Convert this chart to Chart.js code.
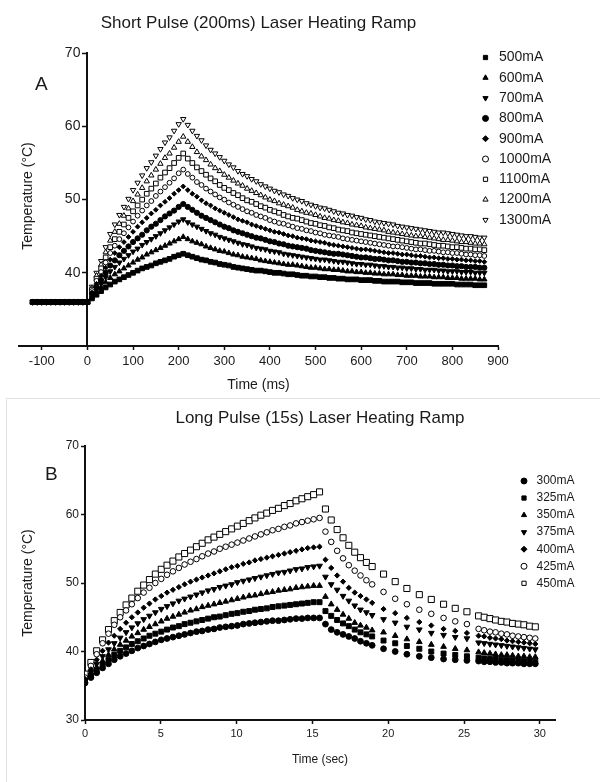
<!DOCTYPE html>
<html>
<head>
<meta charset="utf-8">
<title>Laser Heating Ramp</title>
<script src="https://cdn.jsdelivr.net/npm/chart.js@4.4.1/dist/chart.umd.min.js"></script>
<style>
  body { margin: 0; background: #fff; }
  #page { position: relative; width: 600px; height: 782px; overflow: hidden;
          font-family: "Liberation Sans", Arial, sans-serif; color: #1a1a1a; }
  #chartA { position: absolute; left: 0; top: 0; }
  #chartB { position: absolute; left: 0; top: 400px; }
  #frameB { position: absolute; left: 6px; top: 398px; width: 600px; height: 400px;
            border-left: 1px solid #e2e2e2; border-top: 1px solid #e2e2e2; }
  .letter { position: absolute; font-size: 19px; line-height: 19px; }
  #yTitleA { position: absolute; left: -73px; top: 188px; width: 200px; height: 16px;
             line-height: 16px; font-size: 14px; text-align: center; transform: rotate(-90deg); }
</style>
</head>
<body>
<div id="page">
  <div id="frameB"></div>
  <canvas id="chartA" width="600" height="400"></canvas>
  <canvas id="chartB" width="600" height="382"></canvas>
  <div class="letter" style="left:35px; top:74px;">A</div>
  <div class="letter" style="left:45px; top:464px;">B</div>
  <div id="yTitleA">Temperature (°C)</div>
</div>
<script>
const FONT = "'Liberation Sans', Arial, sans-serif";
Chart.defaults.font.family = FONT;
Chart.defaults.color = "#1a1a1a";

// ---------- A: short pulse (200 ms), time in ms ----------
const timeA = [-120, -110, -100, -90, -80, -70, -60, -50, -40, -30, -20, -10, 0,
  10, 20, 30, 40, 50, 60, 70, 80, 90, 100, 110, 120, 130, 140, 150, 160, 170, 180, 190, 200, 210,
  220, 230, 240, 250, 260, 270, 280, 290, 300, 310, 320, 330, 340, 350, 360, 370, 380, 390, 400, 410,
  420, 430, 440, 450, 460, 470, 480, 490, 500, 510, 520, 530, 540, 550, 560, 570, 580, 590, 600, 610,
  620, 630, 640, 650, 660, 670, 680, 690, 700, 710, 720, 730, 740, 750, 760, 770, 780, 790, 800, 810,
  820, 830, 840, 850, 860, 870];

const labelsA = ["500mA", "600mA", "700mA", "800mA", "900mA", "1000mA", "1100mA", "1200mA", "1300mA"];

const a500 = [36.0, 36.0, 36.0, 36.0, 36.0, 36.0, 36.0, 36.0, 36.0, 36.0, 36.0, 36.0, 36.0,
  36.5, 37.0, 37.5, 38.0, 38.4, 38.8, 39.1, 39.4, 39.7, 40.0, 40.3, 40.6, 40.8, 41.0, 41.3, 41.5, 41.7, 41.9, 42.2, 42.4, 42.6,
  42.4, 42.2, 42.0, 41.8, 41.7, 41.5, 41.4, 41.2, 41.1, 41.0,
  40.8, 40.7, 40.6, 40.5, 40.4, 40.3, 40.3, 40.2, 40.1, 40.0,
  40.0, 39.9, 39.8, 39.8, 39.7, 39.6, 39.6, 39.5, 39.5, 39.4,
  39.4, 39.3, 39.3, 39.2, 39.2, 39.1, 39.1, 39.1, 39.0, 39.0,
  39.0, 38.9, 38.9, 38.8, 38.8, 38.8, 38.8, 38.7, 38.7, 38.7,
  38.6, 38.6, 38.6, 38.6, 38.5, 38.5, 38.5, 38.5, 38.5, 38.4,
  38.4, 38.4, 38.4, 38.3, 38.3, 38.3];
const a600 = [36.0, 36.0, 36.0, 36.0, 36.0, 36.0, 36.0, 36.0, 36.0, 36.0, 36.0, 36.0, 36.0,
  36.7, 37.4, 38.0, 38.7, 39.3, 39.8, 40.2, 40.6, 41.0, 41.4, 41.8, 42.1, 42.5, 42.8, 43.1, 43.4, 43.7, 44.0, 44.3, 44.6, 44.9,
  44.6, 44.3, 44.1, 43.9, 43.6, 43.4, 43.2, 43.0, 42.9, 42.7,
  42.5, 42.4, 42.2, 42.1, 42.0, 41.9, 41.7, 41.6, 41.5, 41.4,
  41.3, 41.2, 41.1, 41.1, 41.0, 40.9, 40.8, 40.7, 40.7, 40.6,
  40.5, 40.5, 40.4, 40.4, 40.3, 40.2, 40.2, 40.1, 40.1, 40.0,
  40.0, 39.9, 39.9, 39.8, 39.8, 39.8, 39.7, 39.7, 39.6, 39.6,
  39.6, 39.5, 39.5, 39.5, 39.4, 39.4, 39.4, 39.3, 39.3, 39.3,
  39.2, 39.2, 39.2, 39.2, 39.1, 39.1];
const a700 = [36.0, 36.0, 36.0, 36.0, 36.0, 36.0, 36.0, 36.0, 36.0, 36.0, 36.0, 36.0, 36.0,
  36.9, 37.8, 38.5, 39.4, 40.2, 40.8, 41.4, 41.9, 42.4, 42.9, 43.3, 43.8, 44.2, 44.6, 45.0, 45.4, 45.8, 46.2, 46.6, 47.0, 47.3,
  46.9, 46.6, 46.3, 46.0, 45.7, 45.4, 45.2, 44.9, 44.7, 44.5,
  44.3, 44.1, 43.9, 43.8, 43.6, 43.4, 43.3, 43.2, 43.0, 42.9,
  42.8, 42.6, 42.5, 42.4, 42.3, 42.2, 42.1, 42.0, 41.9, 41.8,
  41.8, 41.7, 41.6, 41.5, 41.5, 41.4, 41.3, 41.2, 41.2, 41.1,
  41.1, 41.0, 40.9, 40.9, 40.8, 40.8, 40.7, 40.7, 40.6, 40.6,
  40.5, 40.5, 40.4, 40.4, 40.4, 40.3, 40.3, 40.2, 40.2, 40.2,
  40.1, 40.1, 40.1, 40.0, 40.0, 40.0];
const a800 = [36.0, 36.0, 36.0, 36.0, 36.0, 36.0, 36.0, 36.0, 36.0, 36.0, 36.0, 36.0, 36.0,
  37.1, 38.1, 39.0, 40.0, 41.0, 41.7, 42.4, 43.0, 43.6, 44.2, 44.7, 45.2, 45.8, 46.3, 46.7, 47.2, 47.7, 48.1, 48.5, 49.0, 49.4,
  49.0, 48.6, 48.2, 47.8, 47.5, 47.2, 46.9, 46.6, 46.3, 46.1,
  45.8, 45.6, 45.4, 45.2, 45.0, 44.8, 44.7, 44.5, 44.3, 44.2,
  44.0, 43.9, 43.7, 43.6, 43.5, 43.4, 43.3, 43.1, 43.0, 42.9,
  42.8, 42.7, 42.6, 42.6, 42.5, 42.4, 42.3, 42.2, 42.1, 42.1,
  42.0, 41.9, 41.9, 41.8, 41.7, 41.7, 41.6, 41.5, 41.5, 41.4,
  41.4, 41.3, 41.3, 41.2, 41.2, 41.1, 41.1, 41.0, 41.0, 40.9,
  40.9, 40.8, 40.8, 40.8, 40.7, 40.7];
const a900 = [36.0, 36.0, 36.0, 36.0, 36.0, 36.0, 36.0, 36.0, 36.0, 36.0, 36.0, 36.0, 36.0,
  37.3, 38.5, 39.6, 40.7, 41.8, 42.7, 43.5, 44.2, 44.9, 45.6, 46.3, 46.9, 47.5, 48.1, 48.6, 49.2, 49.7, 50.2, 50.8, 51.3, 51.8,
  51.3, 50.8, 50.4, 49.9, 49.5, 49.2, 48.8, 48.5, 48.2, 47.9,
  47.6, 47.3, 47.1, 46.9, 46.6, 46.4, 46.2, 46.0, 45.8, 45.6,
  45.5, 45.3, 45.1, 45.0, 44.8, 44.7, 44.6, 44.4, 44.3, 44.2,
  44.1, 43.9, 43.8, 43.7, 43.6, 43.5, 43.4, 43.3, 43.2, 43.2,
  43.1, 43.0, 42.9, 42.8, 42.7, 42.7, 42.6, 42.5, 42.5, 42.4,
  42.3, 42.3, 42.2, 42.1, 42.1, 42.0, 42.0, 41.9, 41.9, 41.8,
  41.8, 41.7, 41.7, 41.6, 41.6, 41.5];
const a1000 = [36.0, 36.0, 36.0, 36.0, 36.0, 36.0, 36.0, 36.0, 36.0, 36.0, 36.0, 36.0, 36.0,
  37.5, 38.9, 40.1, 41.4, 42.7, 43.7, 44.6, 45.4, 46.2, 47.0, 47.8, 48.5, 49.2, 49.8, 50.5, 51.1, 51.7, 52.3, 52.9, 53.6, 54.1,
  53.5, 53.0, 52.4, 52.0, 51.5, 51.1, 50.7, 50.3, 50.0, 49.6,
  49.3, 49.0, 48.7, 48.4, 48.2, 47.9, 47.7, 47.5, 47.2, 47.0,
  46.8, 46.7, 46.5, 46.3, 46.1, 46.0, 45.8, 45.7, 45.5, 45.4,
  45.2, 45.1, 45.0, 44.9, 44.7, 44.6, 44.5, 44.4, 44.3, 44.2,
  44.1, 44.0, 43.9, 43.8, 43.7, 43.6, 43.6, 43.5, 43.4, 43.3,
  43.2, 43.2, 43.1, 43.0, 43.0, 42.9, 42.8, 42.8, 42.7, 42.7,
  42.6, 42.5, 42.5, 42.4, 42.4, 42.3];
const a1100 = [36.0, 36.0, 36.0, 36.0, 36.0, 36.0, 36.0, 36.0, 36.0, 36.0, 36.0, 36.0, 36.0,
  37.7, 39.2, 40.6, 42.1, 43.5, 44.6, 45.6, 46.6, 47.5, 48.4, 49.2, 50.0, 50.8, 51.5, 52.2, 53.0, 53.7, 54.3, 55.0, 55.7, 56.3,
  55.6, 55.0, 54.4, 53.9, 53.4, 52.9, 52.5, 52.0, 51.6, 51.3,
  50.9, 50.6, 50.2, 49.9, 49.7, 49.4, 49.1, 48.9, 48.6, 48.4,
  48.2, 47.9, 47.7, 47.5, 47.4, 47.2, 47.0, 46.8, 46.7, 46.5,
  46.4, 46.2, 46.1, 45.9, 45.8, 45.7, 45.5, 45.4, 45.3, 45.2,
  45.1, 45.0, 44.9, 44.8, 44.7, 44.6, 44.5, 44.4, 44.3, 44.2,
  44.1, 44.0, 44.0, 43.9, 43.8, 43.7, 43.7, 43.6, 43.5, 43.5,
  43.4, 43.3, 43.3, 43.2, 43.2, 43.1];
const a1200 = [36.0, 36.0, 36.0, 36.0, 36.0, 36.0, 36.0, 36.0, 36.0, 36.0, 36.0, 36.0, 36.0,
  37.9, 39.6, 41.1, 42.8, 44.4, 45.6, 46.7, 47.8, 48.8, 49.8, 50.7, 51.6, 52.5, 53.3, 54.1, 54.9, 55.7, 56.3, 57.1, 57.9, 58.6,
  57.9, 57.2, 56.5, 55.9, 55.4, 54.8, 54.3, 53.9, 53.4, 53.0,
  52.6, 52.2, 51.9, 51.5, 51.2, 50.9, 50.6, 50.3, 50.0, 49.8,
  49.5, 49.3, 49.1, 48.9, 48.6, 48.4, 48.2, 48.1, 47.9, 47.7,
  47.5, 47.4, 47.2, 47.1, 46.9, 46.8, 46.6, 46.5, 46.4, 46.2,
  46.1, 46.0, 45.9, 45.8, 45.6, 45.5, 45.4, 45.3, 45.2, 45.1,
  45.0, 45.0, 44.9, 44.8, 44.7, 44.6, 44.5, 44.5, 44.4, 44.3,
  44.2, 44.2, 44.1, 44.0, 44.0, 43.9];
const a1300 = [36.0, 36.0, 36.0, 36.0, 36.0, 36.0, 36.0, 36.0, 36.0, 36.0, 36.0, 36.0, 36.0,
  38.1, 40.0, 41.6, 43.5, 45.3, 46.6, 47.9, 49.0, 50.1, 51.3, 52.3, 53.3, 54.3, 55.1, 56.0, 56.9, 57.8, 58.5, 59.4, 60.3, 61.0,
  60.2, 59.4, 58.7, 58.1, 57.4, 56.8, 56.3, 55.8, 55.3, 54.8,
  54.4, 53.9, 53.5, 53.2, 52.8, 52.5, 52.1, 51.8, 51.5, 51.2,
  51.0, 50.7, 50.5, 50.2, 50.0, 49.8, 49.5, 49.3, 49.1, 48.9,
  48.8, 48.6, 48.4, 48.2, 48.1, 47.9, 47.8, 47.6, 47.5, 47.3,
  47.2, 47.0, 46.9, 46.8, 46.7, 46.6, 46.4, 46.3, 46.2, 46.1,
  46.0, 45.9, 45.8, 45.7, 45.6, 45.5, 45.5, 45.4, 45.3, 45.2,
  45.1, 45.0, 45.0, 44.9, 44.8, 44.8];

const xTicksA = [-100, 0, 100, 200, 300, 400, 500, 600, 700, 800, 900];
const yTicksA = [40, 50, 60, 70];

// ---------- B: long pulse (15 s), time in seconds ----------
const timeB = [0, 0.39, 0.77, 1.16, 1.55, 1.93, 2.32, 2.71, 3.09, 3.48, 3.87, 4.25, 4.64, 5.03, 5.41,
  5.8, 6.19, 6.57, 6.96, 7.35, 7.73, 8.12, 8.51, 8.89, 9.28, 9.67, 10.05, 10.44, 10.83, 11.21, 11.6,
  11.99, 12.37, 12.76, 13.15, 13.53, 13.92, 14.31, 14.69, 15.08, 15.47,
  15.86, 16.24, 16.63, 17.02, 17.4, 17.79, 18.17, 18.56, 18.94,
  19.69, 20.46, 21.23, 22.05, 22.84, 23.65, 24.42, 25.19,
  25.96, 26.33, 26.71, 27.08, 27.46, 27.83, 28.2, 28.58, 28.95, 29.33, 29.7];

const labelsB = ["300mA", "325mA", "350mA", "375mA", "400mA", "425mA", "450mA"];

const b300 = [35.4, 36.2, 36.9, 37.6, 38.2, 38.8, 39.3, 39.7, 40.1, 40.5, 40.8, 41.1, 41.4, 41.7, 41.9,
  42.1, 42.3, 42.5, 42.7, 42.9, 43.0, 43.2, 43.3, 43.5, 43.6, 43.7, 43.8, 44.0, 44.1, 44.2, 44.3,
  44.4, 44.5, 44.5, 44.6, 44.7, 44.8, 44.8, 44.9, 44.9, 44.9,
  44.0, 43.2, 42.8, 42.5, 42.2, 41.9, 41.5, 41.2, 40.9,
  40.4, 40.0, 39.6, 39.3, 39.1, 38.9, 38.8, 38.7,
  38.6, 38.5, 38.5, 38.4, 38.4, 38.3, 38.3, 38.3, 38.2, 38.2, 38.2];
const b325 = [35.6, 36.5, 37.3, 38.1, 38.8, 39.5, 40.1, 40.6, 41.1, 41.5, 41.9, 42.3, 42.6, 42.9, 43.2,
  43.5, 43.7, 44.0, 44.2, 44.4, 44.6, 44.8, 45.0, 45.1, 45.3, 45.5, 45.6, 45.8, 45.9, 46.1, 46.2,
  46.3, 46.5, 46.6, 46.7, 46.8, 46.9, 47.0, 47.1, 47.2, 47.2,
  45.9, 45.2, 44.6, 44.1, 43.7, 43.2, 42.8, 42.5, 42.2,
  41.6, 41.2, 40.8, 40.4, 40.0, 39.7, 39.5, 39.3,
  39.1, 39.0, 38.9, 38.9, 38.8, 38.8, 38.7, 38.7, 38.6, 38.6, 38.5];
const b350 = [35.7, 36.7, 37.7, 38.6, 39.5, 40.3, 41.0, 41.6, 42.2, 42.7, 43.2, 43.6, 44.0, 44.4, 44.8,
  45.1, 45.4, 45.7, 46.0, 46.2, 46.5, 46.7, 46.9, 47.1, 47.3, 47.5, 47.7, 47.9, 48.1, 48.2, 48.4,
  48.6, 48.7, 48.9, 49.0, 49.1, 49.3, 49.4, 49.5, 49.6, 49.6,
  48.0, 46.9, 46.1, 45.4, 44.8, 44.2, 43.8, 43.5, 43.1,
  42.8, 42.3, 41.8, 41.4, 41.0, 40.7, 40.4, 40.2,
  39.9, 39.8, 39.7, 39.6, 39.5, 39.5, 39.4, 39.3, 39.3, 39.2, 39.2];
const b375 = [35.8, 37.0, 38.2, 39.3, 40.3, 41.2, 42.0, 42.8, 43.5, 44.1, 44.7, 45.2, 45.7, 46.2, 46.6,
  47.0, 47.4, 47.7, 48.0, 48.3, 48.6, 48.9, 49.1, 49.4, 49.6, 49.8, 50.1, 50.3, 50.5, 50.7, 50.9,
  51.1, 51.3, 51.5, 51.6, 51.8, 52.0, 52.1, 52.3, 52.4, 52.5,
  50.9, 49.8, 49.0, 48.1, 47.4, 46.7, 46.1, 45.7, 45.3,
  44.7, 44.2, 43.6, 43.2, 42.7, 42.4, 42.1, 41.9,
  41.3, 41.2, 41.1, 41.0, 40.9, 40.8, 40.7, 40.6, 40.5, 40.4, 40.3];
const b400 = [36.0, 37.4, 38.8, 40.1, 41.3, 42.3, 43.3, 44.2, 45.0, 45.7, 46.4, 47.0, 47.6, 48.1, 48.6,
  49.0, 49.4, 49.8, 50.2, 50.5, 50.8, 51.1, 51.4, 51.7, 52.0, 52.3, 52.5, 52.8, 53.0, 53.3, 53.5,
  53.7, 53.9, 54.1, 54.3, 54.5, 54.7, 54.9, 55.1, 55.2, 55.3,
  53.4, 52.2, 51.1, 50.2, 49.3, 48.6, 48.1, 47.6, 47.1,
  46.2, 45.6, 44.9, 44.3, 43.8, 43.3, 43.0, 42.7,
  42.3, 42.2, 42.0, 41.9, 41.8, 41.6, 41.5, 41.4, 41.3, 41.2, 41.1];
const b425 = [36.2, 37.9, 39.6, 41.2, 42.6, 43.9, 45.0, 46.0, 46.9, 47.8, 48.6, 49.3, 50.0, 50.6, 51.2,
  51.7, 52.2, 52.7, 53.1, 53.5, 53.9, 54.3, 54.6, 55.0, 55.3, 55.6, 55.9, 56.2, 56.5, 56.8, 57.1,
  57.4, 57.7, 57.9, 58.2, 58.4, 58.7, 58.9, 59.1, 59.3, 59.5,
  57.5, 56.0, 54.7, 53.6, 52.6, 51.8, 51.1, 50.4, 49.8,
  48.7, 47.7, 46.9, 46.1, 45.5, 44.9, 44.4, 44.0,
  43.3, 43.1, 42.9, 42.8, 42.6, 42.5, 42.3, 42.2, 42.1, 42.0, 41.9];
const b450 = [36.7, 38.4, 40.1, 41.7, 43.2, 44.5, 45.7, 46.8, 47.8, 48.8, 49.7, 50.5, 51.3, 52.0, 52.6,
  53.2, 53.8, 54.3, 54.8, 55.3, 55.8, 56.3, 56.7, 57.1, 57.5, 57.9, 58.3, 58.7, 59.1, 59.5, 59.9,
  60.2, 60.6, 60.9, 61.3, 61.6, 62.0, 62.3, 62.6, 62.9, 63.3,
  60.8, 59.2, 57.8, 56.6, 55.5, 54.5, 53.7, 53.0, 52.4,
  51.3, 50.2, 49.2, 48.3, 47.6, 46.9, 46.3, 45.8,
  45.2, 45.0, 44.8, 44.6, 44.4, 44.3, 44.1, 44.0, 43.9, 43.7, 43.6];

const xTicksB = [0, 5, 10, 15, 20, 25, 30];
const yTicksB = [30, 40, 50, 60, 70];

// ---------- helpers ----------
function toPoints(xs, ys) {
  return xs.map((x, i) => ({ x: x, y: ys[i] }));
}

function series(label, xs, ys, style, radius, open, rotation) {
  return {
    label: label,
    data: toPoints(xs, ys),
    pointStyle: style,
    pointRotation: rotation || 0,
    pointRadius: radius,
    pointBorderWidth: 1,
    pointBackgroundColor: open ? "#ffffff" : "#000000",
    pointBorderColor: "#000000",
    backgroundColor: open ? "#ffffff" : "#000000",
    borderColor: "#000000",
    showLine: false
  };
}

function fixedTicks(values) {
  return (axis) => { axis.ticks = values.map((v) => ({ value: v })); };
}

const axisGrid = { drawOnChartArea: false, drawTicks: true, tickLength: 4, tickColor: "#111", tickWidth: 1.5 };
const axisBorder = { display: true, color: "#111", width: 2 };

// legend drawn inside the plot, to the right, with the library's point drawer
const sideLegend = {
  id: "sideLegend",
  afterDraw(chart, args, opts) {
    const ctx = chart.ctx;
    ctx.save();
    ctx.font = opts.fontSize + "px " + FONT;
    ctx.textBaseline = "middle";
    chart.data.datasets.forEach((ds, i) => {
      const y = opts.y + i * opts.step;
      ctx.fillStyle = ds.pointBackgroundColor;
      ctx.strokeStyle = "#000";
      ctx.lineWidth = 1;
      Chart.helpers.drawPoint(ctx, {
        pointStyle: ds.pointStyle, rotation: ds.pointRotation, radius: opts.radius, borderWidth: 1
      }, opts.x, y);
      ctx.fillStyle = "#1a1a1a";
      ctx.fillText(ds.label, opts.x + opts.gap, y);
    });
    ctx.restore();
  }
};

// a y axis pinned at x = 0 puts its labels right on the line; move them off it
const pinnedAxisLabels = {
  id: "pinnedAxisLabels",
  beforeDraw(chart, args, opts) {
    chart.scales.y.getLabelItems().forEach((item) => {
      if (!item.shifted) {
        item.options.translation[0] -= opts.dx;
        item.shifted = true;
      }
    });
  }
};

// ---------- chart A ----------
new Chart(document.getElementById("chartA"), {
  type: "scatter",
  data: {
    datasets: [
      series(labelsA[0], timeA, a500, "rect", 3.3, false),
      series(labelsA[1], timeA, a600, "triangle", 3.1, false),
      series(labelsA[2], timeA, a700, "triangle", 3.1, false, 180),
      series(labelsA[3], timeA, a800, "circle", 2.6, false),
      series(labelsA[4], timeA, a900, "rectRot", 2.4, false),
      series(labelsA[5], timeA, a1000, "circle", 2.4, true),
      series(labelsA[6], timeA, a1100, "rect", 3.3, true),
      series(labelsA[7], timeA, a1200, "triangle", 3.1, true),
      series(labelsA[8], timeA, a1300, "triangle", 3.1, true, 180)
    ]
  },
  options: {
    responsive: false,
    animation: false,
    events: [],
    layout: { padding: { left: 19, right: 102, top: 0, bottom: 0 } },
    plugins: {
      legend: { display: false },
      tooltip: { enabled: false },
      title: {
        display: true, text: "Short Pulse (200ms) Laser Heating Ramp", fullSize: false,
        font: { size: 17, weight: "normal" }, color: "#1a1a1a", padding: { top: 13, bottom: 19.8 }
      },
      sideLegend: { x: 485.5, y: 57.5, step: 20.3, radius: 3, gap: 13.5, fontSize: 14 },
      pinnedAxisLabels: { dx: 7 }
    },
    scales: {
      x: {
        type: "linear", min: -150, max: 900,
        afterBuildTicks: fixedTicks(xTicksA),
        afterFit: (axis) => { axis.height = 54; },
        ticks: { font: { size: 13 }, padding: 4, maxRotation: 0, autoSkip: false, color: "#1a1a1a" },
        grid: axisGrid, border: axisBorder,
        title: { display: true, text: "Time (ms)", font: { size: 14 }, color: "#1a1a1a", padding: { top: 0, bottom: 6 } }
      },
      y: {
        type: "linear", axis: "y", min: 30, max: 70, position: { x: 0 },
        afterBuildTicks: fixedTicks(yTicksA),
        ticks: { font: { size: 14 }, padding: 3, color: "#1a1a1a" },
        grid: axisGrid, border: axisBorder
      }
    }
  },
  plugins: [sideLegend, pinnedAxisLabels]
});

// ---------- chart B ----------
new Chart(document.getElementById("chartB"), {
  type: "scatter",
  data: {
    datasets: [
      series(labelsB[0], timeB, b300, "circle", 2.9, false),
      series(labelsB[1], timeB, b325, "rect", 3.5, false),
      series(labelsB[2], timeB, b350, "triangle", 3.3, false),
      series(labelsB[3], timeB, b375, "triangle", 3.3, false, 180),
      series(labelsB[4], timeB, b400, "rectRot", 2.6, false),
      series(labelsB[5], timeB, b425, "circle", 2.8, true),
      series(labelsB[6], timeB, b450, "rect", 4.3, true)
    ]
  },
  options: {
    responsive: false,
    animation: false,
    events: [],
    layout: { padding: { left: 0, right: 45, top: 0, bottom: 0 } },
    plugins: {
      legend: { display: false },
      tooltip: { enabled: false },
      title: {
        display: true, text: "Long Pulse (15s) Laser Heating Ramp", fullSize: false,
        font: { size: 17, weight: "normal" }, color: "#1a1a1a", padding: { top: 8, bottom: 17.6 }
      },
      sideLegend: { x: 524, y: 81, step: 17.05, radius: 3, gap: 12.5, fontSize: 12 }
    },
    scales: {
      x: {
        type: "linear", min: 0, max: 31,
        afterBuildTicks: fixedTicks(xTicksB),
        afterFit: (axis) => { axis.height = 62; },
        ticks: { font: { size: 11 }, padding: 3, maxRotation: 0, autoSkip: false, color: "#1a1a1a" },
        grid: axisGrid, border: axisBorder,
        title: { display: true, text: "Time (sec)", font: { size: 12 }, color: "#1a1a1a", padding: { top: 0, bottom: 15 } }
      },
      y: {
        type: "linear", min: 30, max: 70, position: "left",
        afterBuildTicks: fixedTicks(yTicksB),
        afterFit: (axis) => { axis.width = 85; },
        ticks: { font: { size: 12 }, padding: 2, color: "#1a1a1a" },
        grid: axisGrid, border: axisBorder,
        title: { display: true, text: "Temperature (°C)", font: { size: 14 }, color: "#1a1a1a", padding: { top: 20, bottom: 0 } }
      }
    }
  },
  plugins: [sideLegend]
});
</script>
</body>
</html>
